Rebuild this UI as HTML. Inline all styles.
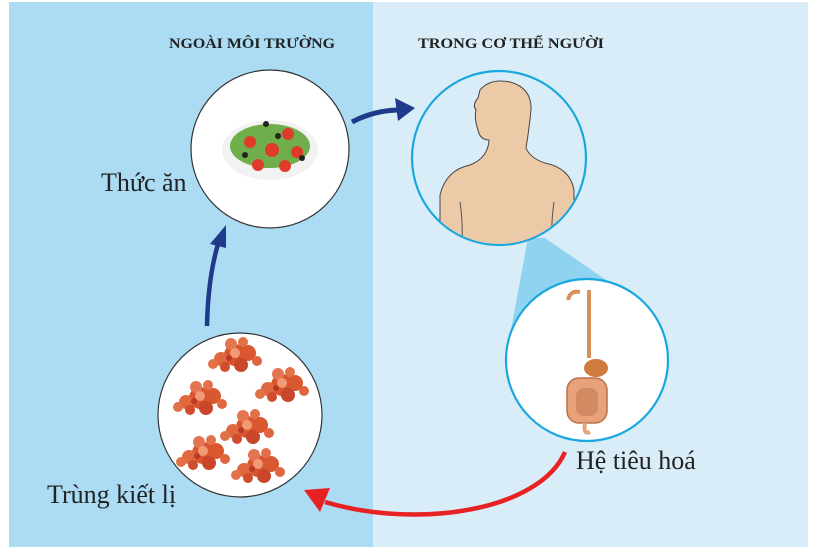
<!DOCTYPE html>
<html><head><meta charset="utf-8"><style>
html,body{margin:0;padding:0;background:#fff;}
svg{display:block;}
text{font-family:"Liberation Serif",serif;}
</style></head><body>
<svg width="814" height="549" viewBox="0 0 814 549" xmlns="http://www.w3.org/2000/svg">
<defs>
<g id="am">
<circle cx="0" cy="0" r="11" fill="#d8552e"/>
<circle cx="-14" cy="4" r="7" fill="#e0683f"/>
<circle cx="13" cy="-2" r="8" fill="#d9582f"/>
<circle cx="-4" cy="-11" r="6" fill="#e37650"/>
<circle cx="6" cy="10" r="7" fill="#c9462a"/>
<circle cx="-22" cy="9" r="5" fill="#e27048"/>
<circle cx="22" cy="6" r="5" fill="#df6640"/>
<circle cx="8" cy="-13" r="5" fill="#e27048"/>
<circle cx="-10" cy="12" r="5" fill="#cf4d2c"/>
<circle cx="0" cy="-2" r="5" fill="#f19a76"/>
<circle cx="-6" cy="3" r="3" fill="#b83a23"/>
</g>
</defs>
<rect x="9" y="2" width="364" height="545" fill="#abdcf3"/>
<rect x="373" y="2" width="435" height="545" fill="#d8edf7"/>
<text x="252" y="48" font-size="15" font-weight="bold" text-anchor="middle" fill="#222" textLength="166" lengthAdjust="spacingAndGlyphs">NGOÀI MÔI TRƯỜNG</text>
<text x="511" y="48" font-size="15" font-weight="bold" text-anchor="middle" fill="#222" textLength="186" lengthAdjust="spacingAndGlyphs">TRONG CƠ THỂ NGƯỜI</text>

<!-- cone -->
<polygon points="528,238 545,238 612,284 510,335" fill="#8fd3f1"/>

<!-- salad -->
<circle cx="270" cy="149" r="79" fill="#fff" stroke="#333" stroke-width="1.2"/>
<ellipse cx="270" cy="150" rx="48" ry="30" fill="#f2f2f2"/>
<ellipse cx="270" cy="146" rx="40" ry="22" fill="#6fae4a"/>
<circle cx="250" cy="142" r="6" fill="#e03a2a"/><circle cx="272" cy="150" r="7" fill="#e03a2a"/>
<circle cx="288" cy="134" r="6" fill="#e03a2a"/><circle cx="258" cy="165" r="6" fill="#e03a2a"/>
<circle cx="285" cy="166" r="6" fill="#e03a2a"/><circle cx="297" cy="152" r="6" fill="#e03a2a"/>
<circle cx="245" cy="155" r="3" fill="#222"/><circle cx="266" cy="124" r="3" fill="#222"/>
<circle cx="302" cy="158" r="3" fill="#222"/><circle cx="278" cy="136" r="3" fill="#222"/>
<text x="101" y="191" font-size="26" fill="#222">Thức ăn</text>

<!-- person -->
<circle cx="499" cy="158" r="87" fill="#d8edf7" stroke="#1aa7e0" stroke-width="2.2"/>
<clipPath id="pc"><circle cx="499" cy="158" r="86"/></clipPath>
<path clip-path="url(#pc)" d="M480,90 Q490,78 510,82 Q532,88 531,110 Q529,130 526,148 Q530,158 545,163 Q570,168 574,190 L574,260 L440,260 L440,195 Q446,170 470,165 Q488,158 489,140 Q480,140 478,130 Q474,118 476,110 Q472,105 478,98 Z" fill="#eccaa8" stroke="#444" stroke-width="1"/>
<path clip-path="url(#pc)" d="M460,202 Q463,222 462,245 M554,202 Q551,222 552,245" stroke="#555" stroke-width="1" fill="none"/>

<!-- digestive -->
<circle cx="587" cy="360" r="81" fill="#fff" stroke="#1aa7e0" stroke-width="2.2"/>
<path d="M568,300 Q570,290 580,292 M589,290 L589,358" stroke="#d9905f" stroke-width="4" fill="none"/>
<ellipse cx="596" cy="368" rx="12" ry="9" fill="#d07a40"/>
<rect x="567" y="378" width="40" height="45" rx="12" fill="#e8a27a" stroke="#b8714a" stroke-width="1.5"/>
<rect x="576" y="388" width="22" height="28" rx="8" fill="#d38a63"/>
<path d="M585,423 Q583,435 590,432" stroke="#e8a27a" stroke-width="4" fill="none"/>

<text x="576" y="469" font-size="26" fill="#222">Hệ tiêu hoá</text>

<!-- amoebas -->
<circle cx="240" cy="415" r="82" fill="#fff" stroke="#333" stroke-width="1.2"/>
<use href="#am" x="235" y="355"/><use href="#am" x="282" y="385"/>
<use href="#am" x="200" y="398"/><use href="#am" x="247" y="427"/>
<use href="#am" x="203" y="453"/><use href="#am" x="258" y="466"/>
<text x="47" y="503" font-size="26" fill="#222">Trùng kiết lị</text>

<!-- arrows -->
<path d="M352,122 Q375,110 400,110" stroke="#1f3a8a" stroke-width="5" fill="none"/>
<polygon points="415,108 395,98 398,121" fill="#1f3a8a"/>
<path d="M207,326 Q208,278 218,244" stroke="#1f3a8a" stroke-width="4.5" fill="none"/>
<polygon points="226,225 210,244 226,248" fill="#1f3a8a"/>
<path d="M565,452 C540,510 420,530 325,502" stroke="#e82222" stroke-width="4.5" fill="none"/>
<polygon points="304,490 330,488 320,512" fill="#e82222"/>
</svg>
</body></html>
